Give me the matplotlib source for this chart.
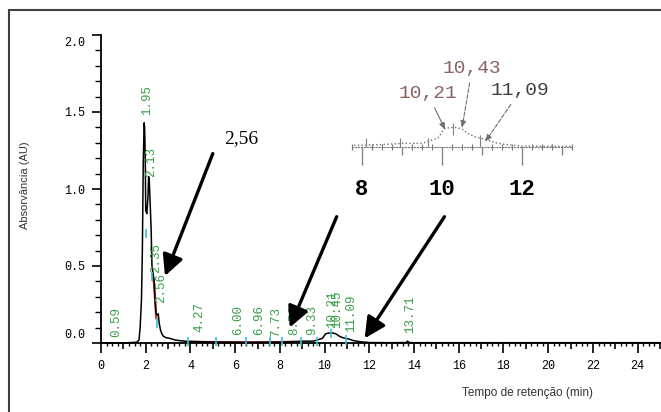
import matplotlib.pyplot as plt
from matplotlib.ticker import MultipleLocator, FuncFormatter
from matplotlib.patches import Rectangle
from matplotlib.transforms import ScaledTranslation

# chromatogram trace
tempo = [0, 1.0, 1.6, 1.7, 1.75, 1.81, 1.85, 1.89, 1.93, 1.95, 1.98, 2.0, 2.05, 2.1,
         2.13, 2.16, 2.2, 2.24, 2.28, 2.33, 2.37, 2.42, 2.46, 2.52, 2.56, 2.6, 2.66,
         2.72, 2.78, 2.9, 3.08, 3.3, 3.53, 3.9, 4.5, 5.2, 6.0, 7.0, 8.0, 8.5, 9.0,
         9.5, 9.9, 10.05, 10.2, 10.35, 10.5, 10.65, 10.8, 10.95, 11.1, 11.3, 11.6,
         12.0, 13.0, 13.65, 13.71, 13.78, 14.0, 25]
absorv = [0, 0, 0.005, 0.02, 0.1, 0.28, 0.6, 1.17, 1.43, 1.40, 1.2, 0.86, 0.84, 0.95,
          1.08, 1.05, 0.9, 0.75, 0.5, 0.45, 0.41, 0.28, 0.19, 0.18, 0.19, 0.13, 0.085,
          0.06, 0.045, 0.035, 0.03, 0.02, 0.015, 0.01, 0.008, 0.006, 0.005, 0.005,
          0.006, 0.008, 0.012, 0.012, 0.03, 0.06, 0.065, 0.065, 0.06, 0.045, 0.035,
          0.03, 0.025, 0.015, 0.008, 0.003, 0.002, 0.003, 0.012, 0.003, 0.002, 0.002]

# red baseline pieces
red1_t = [2.30, 2.37, 2.42, 2.47]
red1_a = [0.44, 0.39, 0.28, 0.16]
red2_t = [4.0, 5.0, 6.0, 7.0, 8.0, 8.6]
red2_a = [0.008, 0.006, 0.005, 0.005, 0.006, 0.008]

# cyan integration marks
marca_t = [2.0, 2.28, 2.50, 3.9, 5.15, 6.5, 7.55, 8.1, 8.95, 9.65, 10.27, 10.95]
marca_a = [0.71, 0.43, 0.13, 0.01, 0.01, 0.01, 0.01, 0.01, 0.01, 0.01, 0.06, 0.02]

# green retention time labels
pico_t = [0.59, 1.95, 2.13, 2.35, 2.56, 4.27, 6.00, 6.96, 7.73, 8.53, 9.33, 10.21,
          10.43, 11.09, 13.71]
pico_txt = ['0.59', '1.95', '2.13', '2.35', '2.56', '4.27', '6.00', '6.96', '7.73',
            '8.53', '9.33', '10.21', '10.45', '11.09', '13.71']
pico_a = [0.04, 1.48, 1.08, 0.455, 0.26, 0.07, 0.05, 0.05, 0.04, 0.05, 0.05, 0.1, 0.1,
          0.07, 0.065]

# big arrows: tail -> tip (time, absorbance)
seta_de = [(5.0, 1.23), (10.54, 0.82), (15.36, 0.82)]
seta_para = [(2.86, 0.435), (8.44, 0.10), (11.79, 0.03)]

# inset labels
ins_txt = ['10,21', '10,43', '11,09']
ins_cor = ['#8a6262', '#8a6262', '#404040']
ins_para = [(10.08, 0.057), (10.5, 0.063), (11.08, 0.017)]
ins_de = [(9.65, 0.177), (10.75, 0.26), (11.95, 0.187)]
ins_ls = ['-', '--', '--']

W, H = 661, 412
fig = plt.figure(figsize=(W / 100, H / 100), dpi=100)
fig.patches.append(Rectangle((9 / W, -0.1), 1.2, 1.1 - 10 / H, transform=fig.transFigure,
                             fill=False, ec='#404040', lw=1.5))

ax = fig.add_axes([101 / W, 69 / H, 559 / W, 308 / H])
ax.set_xlim(0, 25)
ax.set_ylim(0, 2.0)
ax.patch.set_alpha(0)
for s in ['top', 'right']:
    ax.spines[s].set_visible(False)
for s in ['left', 'bottom']:
    ax.spines[s].set_linewidth(1.3)

mono = 'Liberation Mono'
ax.xaxis.set_major_locator(MultipleLocator(1))
ax.xaxis.set_minor_locator(MultipleLocator(0.25))
ax.xaxis.set_major_formatter(FuncFormatter(lambda v, p: str(int(round(v))) if round(v) % 2 == 0 else ''))
ax.yaxis.set_major_locator(MultipleLocator(0.5))
ax.yaxis.set_minor_locator(MultipleLocator(0.1))
ax.yaxis.set_major_formatter(FuncFormatter(lambda v, p: f'{v:.1f}'))
ax.tick_params(axis='x', which='major', length=7, width=1.2, pad=5, labelsize=8.5)
ax.tick_params(axis='x', which='minor', length=2.5, width=1)
ax.tick_params(axis='y', which='major', length=6.5, width=1.2, pad=5, labelsize=8.5)
ax.tick_params(axis='y', which='minor', length=4, width=1)
for lab in ax.get_xticklabels() + ax.get_yticklabels():
    lab.set_family(mono)

for tk, v in zip(ax.xaxis.get_major_ticks(), ax.get_xticks()):
    if int(round(v)) % 2:
        tk.tick1line.set_markersize(4.5)
for tk, v in zip(ax.yaxis.get_major_ticks(), ax.get_yticks()):
    if abs(v) < 1e-9:
        tk.label1.set_transform(tk.label1.get_transform() + ScaledTranslation(0, 0.10, fig.dpi_scale_trans))
    if abs(v - 2.0) < 1e-9:
        tk.label1.set_transform(tk.label1.get_transform() + ScaledTranslation(0, -0.07, fig.dpi_scale_trans))

ax.plot(red1_t, red1_a, color='#e03030', lw=1.6, clip_on=False, zorder=2)
ax.plot(red2_t, red2_a, color='#e03030', lw=1.6, clip_on=False, zorder=2)
ax.plot(tempo, absorv, color='black', lw=1.1, clip_on=False, zorder=3)
ax.vlines(marca_t, [a - 0.03 for a in marca_a], [a + 0.03 for a in marca_a],
          color='#40c0d0', lw=1.2, clip_on=False, zorder=4)

# labels sit a couple of pixels right of their peak
shift = ScaledTranslation(0.025, 0, fig.dpi_scale_trans)
for t, txt, a in zip(pico_t, pico_txt, pico_a):
    ax.text(t, a, txt, rotation=90, ha='center', va='bottom', color='#3a9e48',
            fontsize=9, family=mono, zorder=5, transform=ax.transData + shift)

for (t0, a0), (t1, a1) in zip(seta_de, seta_para):
    ax.annotate('', xy=(t1, a1), xytext=(t0, a0), zorder=6,
                arrowprops=dict(arrowstyle='-|>,head_length=0.6,head_width=0.3', lw=2.4,
                                color='black', mutation_scale=21, shrinkA=0, shrinkB=0))

ax.text(6.25, 1.325, '2,56', family='Liberation Serif', fontsize=14, ha='center', va='center')

fig.text(25 / W, 1 - 185 / H, 'Absorvância (AU)', rotation=90, ha='center', va='center',
         fontsize=8, color='#333333', family='Liberation Sans')
fig.text(528 / W, 1 - 393 / H, 'Tempo de retenção (min)', ha='center', va='center',
         fontsize=8.5, color='#333333', family='Liberation Sans')

# zoomed inset around 10 min
ins = fig.add_axes([352 / W, 265 / H, 220 / W, 30 / H])
ins.set_xlim(7.75, 13.25)
ins.set_ylim(0, 0.1)
ins.patch.set_alpha(0)
for s in ['top', 'right', 'left']:
    ins.spines[s].set_visible(False)
ins.spines['bottom'].set_color('#777777')
ins.spines['bottom'].set_linestyle(':')
ins.set_yticks([])
ins.xaxis.set_major_locator(MultipleLocator(1))
ins.xaxis.set_minor_locator(MultipleLocator(0.25))
ins.xaxis.set_major_formatter(FuncFormatter(lambda v, p: str(int(round(v))) if round(v) % 2 == 0 else ''))
ins.tick_params(axis='x', which='major', length=13, width=1, color='#888888', pad=10,
                labelsize=16)
ins.tick_params(axis='x', which='minor', length=5, width=0.8, color='#777777', direction='inout')
for lab in ins.get_xticklabels():
    lab.set_family(mono)
    lab.set_weight('bold')
for tk, v in zip(ins.xaxis.get_major_ticks(), ins.get_xticks()):
    if int(round(v)) % 2:
        tk.tick1line.set_markersize(6)
ins.plot(tempo, absorv, color='#707070', lw=1.0, ls=':')
ins.vlines(marca_t, [a - 0.02 for a in marca_a], [a + 0.02 for a in marca_a],
           color='#808080', lw=0.8)
for txt, c, xy, xyt, ls in zip(ins_txt, ins_cor, ins_para, ins_de, ins_ls):
    ins.annotate(txt, xy=xy, xytext=xyt, ha='center', va='center', family=mono,
                 fontsize=14, color=c, annotation_clip=False,
                 arrowprops=dict(arrowstyle='-|>,head_length=0.3,head_width=0.12',
                                 color='#707070', lw=0.8, ls=ls, shrinkB=0))

fig.savefig('out.png', dpi=100)
